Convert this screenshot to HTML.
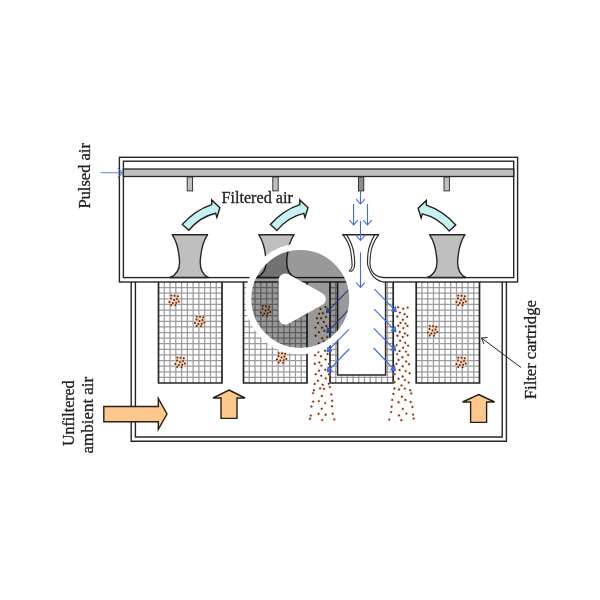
<!DOCTYPE html>
<html lang="en"><head><meta charset="utf-8"><title>Pulse-jet filter cartridge diagram</title>
<style>html,body{margin:0;padding:0;background:#fff}body{width:600px;height:600px;overflow:hidden;font-family:"Liberation Serif",serif}svg{display:block}text{font-family:"Liberation Serif",serif;fill:#1c1c1c;filter:grayscale(1)}</style></head><body>
<svg width="600" height="600" viewBox="0 0 600 600">
<defs>
<pattern id="g" width="5.77" height="5.77" patternUnits="userSpaceOnUse" x="158.5" y="282"><rect width="5.77" height="5.77" fill="#fff"/><path d="M0 0H5.77M0 0V5.77" stroke="#7d7d7d" stroke-width="1.7" fill="none"/></pattern>
<clipPath id="pc"><circle cx="300" cy="300" r="49"/></clipPath>
</defs>
<rect width="600" height="600" fill="#fff"/>
<g fill="none" stroke="#262626" stroke-width="1.4">
<path d="M131.2 282V441.2H506.4V282"/>
<path d="M135.4 282V437H502.2V282"/>
</g>
<rect x="158.5" y="282" width="63.5" height="101" fill="#fff"/>
<path d="M164.27 282V383M170.05 282V383M175.82 282V383M181.59 282V383M187.36 282V383M193.14 282V383M198.91 282V383M204.68 282V383M210.45 282V383M216.23 282V383M158.5 287.61H222M158.5 293.22H222M158.5 298.83H222M158.5 304.44H222M158.5 310.06H222M158.5 315.67H222M158.5 321.28H222M158.5 326.89H222M158.5 332.50H222M158.5 338.11H222M158.5 343.72H222M158.5 349.33H222M158.5 354.94H222M158.5 360.56H222M158.5 366.17H222M158.5 371.78H222M158.5 377.39H222" fill="none" stroke="#9c9ca0" stroke-width="1.25"/>
<path d="M158.5 282V383H222V282" fill="none" stroke="#262626" stroke-width="1.7"/>
<rect x="243.5" y="282" width="63.5" height="101" fill="#fff"/>
<path d="M249.27 282V383M255.05 282V383M260.82 282V383M266.59 282V383M272.36 282V383M278.14 282V383M283.91 282V383M289.68 282V383M295.45 282V383M301.23 282V383M243.5 287.61H307M243.5 293.22H307M243.5 298.83H307M243.5 304.44H307M243.5 310.06H307M243.5 315.67H307M243.5 321.28H307M243.5 326.89H307M243.5 332.50H307M243.5 338.11H307M243.5 343.72H307M243.5 349.33H307M243.5 354.94H307M243.5 360.56H307M243.5 366.17H307M243.5 371.78H307M243.5 377.39H307" fill="none" stroke="#9c9ca0" stroke-width="1.25"/>
<path d="M243.5 282V383H307V282" fill="none" stroke="#262626" stroke-width="1.7"/>
<rect x="330" y="282" width="63.19999999999999" height="101" fill="#fff"/>
<path d="M335.75 282V383M341.49 282V383M347.24 282V383M352.98 282V383M358.73 282V383M364.47 282V383M370.22 282V383M375.96 282V383M381.71 282V383M387.45 282V383M330 287.61H393.2M330 293.22H393.2M330 298.83H393.2M330 304.44H393.2M330 310.06H393.2M330 315.67H393.2M330 321.28H393.2M330 326.89H393.2M330 332.50H393.2M330 338.11H393.2M330 343.72H393.2M330 349.33H393.2M330 354.94H393.2M330 360.56H393.2M330 366.17H393.2M330 371.78H393.2M330 377.39H393.2" fill="none" stroke="#9c9ca0" stroke-width="1.25"/>
<rect x="337.6" y="281" width="48" height="94" fill="#fff"/>
<path d="M337.6 282V375H385.6V282" fill="none" stroke="#262626" stroke-width="1.5"/>
<path d="M330 282V383H393.2V282" fill="none" stroke="#262626" stroke-width="1.7"/>
<rect x="416.2" y="282" width="63.30000000000001" height="101" fill="#fff"/>
<path d="M421.95 282V383M427.71 282V383M433.46 282V383M439.22 282V383M444.97 282V383M450.73 282V383M456.48 282V383M462.24 282V383M467.99 282V383M473.75 282V383M416.2 287.61H479.5M416.2 293.22H479.5M416.2 298.83H479.5M416.2 304.44H479.5M416.2 310.06H479.5M416.2 315.67H479.5M416.2 321.28H479.5M416.2 326.89H479.5M416.2 332.50H479.5M416.2 338.11H479.5M416.2 343.72H479.5M416.2 349.33H479.5M416.2 354.94H479.5M416.2 360.56H479.5M416.2 366.17H479.5M416.2 371.78H479.5M416.2 377.39H479.5" fill="none" stroke="#9c9ca0" stroke-width="1.25"/>
<path d="M416.2 282V383H479.5V282" fill="none" stroke="#262626" stroke-width="1.7"/>
<rect x="119.4" y="157.3" width="398.2" height="124.7" fill="#fff" stroke="#262626" stroke-width="1.4"/>
<rect x="123.4" y="161.2" width="390.3" height="116.4" fill="#fff" stroke="#262626" stroke-width="1.4"/>
<rect x="123.4" y="169" width="390.3" height="7.5" fill="#bfbfbf" stroke="#262626" stroke-width="1.3"/>
<rect x="187.2" y="177" width="5.4" height="13.9" fill="#bfbfbf" stroke="#262626" stroke-width="0.9"/>
<rect x="272.8" y="177" width="5.4" height="13.9" fill="#bfbfbf" stroke="#262626" stroke-width="0.9"/>
<rect x="358.4" y="177" width="5.4" height="13.9" fill="#8c8c8c" stroke="#262626" stroke-width="0.9"/>
<rect x="444" y="177" width="5.4" height="13.9" fill="#bfbfbf" stroke="#262626" stroke-width="0.9"/>
<path d="M172.20000000000002 234.7H207.6C203.9 240 200.9 250 200.20000000000002 262C200.20000000000002 268 201.9 274.5 208.4 277.5H169.9C177.4 274.5 179.6 268 179.6 262C178.9 250 175.9 240 172.20000000000002 234.7Z" fill="#bfbfbf" stroke="#262626" stroke-width="1.4" stroke-linejoin="round"/>
<path d="M258.7 234.7H294.09999999999997C290.4 240 287.4 250 286.7 262C286.7 268 288.4 274.5 294.9 277.5H256.4C263.9 274.5 266.09999999999997 268 266.09999999999997 262C265.4 250 262.4 240 258.7 234.7Z" fill="#bfbfbf" stroke="#262626" stroke-width="1.4" stroke-linejoin="round"/>
<path d="M429.6 234.7H465.0C461.3 240 458.3 250 457.6 262C457.6 268 459.3 274.5 465.8 277.5H427.3C434.8 274.5 437.0 268 437.0 262C436.3 250 433.3 240 429.6 234.7Z" fill="#bfbfbf" stroke="#262626" stroke-width="1.4" stroke-linejoin="round"/>
<rect x="347.6" y="276" width="35.5" height="7.2" fill="#fff"/>
<path d="M342.8 234.6C347.5 240.5 350.3 247 351 253.3C351.6 258.5 352.4 263 352 266.3C351.7 268.5 350.6 270 349.2 271L351.6 271.3C353.3 270 354.2 268.3 354.5 266C354.9 262.5 354.6 258.5 353.9 253.3C353 247 350.5 241 346.6 234.6Z" fill="#fff" stroke="#262626" stroke-width="1.1" stroke-linejoin="round"/>
<path d="M378.6 234.6C374.3 240.5 371.4 247 370.7 253.3C370.1 258 369.8 261.5 370 264.3C370.4 269.5 372.5 273 375.8 275.3C378 276.8 380.5 277.5 384 277.6L383 282C379 281.5 373.5 278 371.2 273.5C369 269 367.8 267 367.6 264.3C367.4 261 367.5 258 368 253.3C368.7 247 371 241 374.8 234.6Z" fill="#fff" stroke="none"/>
<path d="M378.6 234.6C374.3 240.5 371.4 247 370.7 253.3C370.1 258 369.8 261.5 370 264.3C370.4 269.5 372.5 273 375.8 275.3C378 276.8 380.5 277.5 384 277.6M383.5 282C379 281.5 373.5 278 371.2 273.5C369 269 367.8 267 367.6 264.3C367.4 261 367.5 258 368 253.3C368.7 247 371 241 374.8 234.6" fill="none" stroke="#262626" stroke-width="1.1" stroke-linejoin="round"/>
<path d="M342.4 234.7H379" stroke="#262626" stroke-width="1.5"/>
<path transform="translate(182.3 224.4) scale(1 1)" d="M0 0C8 -9 18 -16 29.4 -19.8L29.4 -24.5L37.6 -16.7L34.6 -7L33.4 -11.1C24 -9 14 -3 6.6 5.9Z" fill="#c6f0f2" stroke="#1f1f1f" stroke-width="1.4" stroke-linejoin="miter"/>
<path transform="translate(270.4 224.5) scale(1 1)" d="M0 0C8 -9 18 -16 29.4 -19.8L29.4 -24.5L37.6 -16.7L34.6 -7L33.4 -11.1C24 -9 14 -3 6.6 5.9Z" fill="#c6f0f2" stroke="#1f1f1f" stroke-width="1.4" stroke-linejoin="miter"/>
<path transform="translate(455.75 225) scale(-1 1)" d="M0 0C8 -9 18 -16 29.4 -19.8L29.4 -24.5L37.6 -16.7L34.6 -7L33.4 -11.1C24 -9 14 -3 6.6 5.9Z" fill="#c6f0f2" stroke="#1f1f1f" stroke-width="1.4" stroke-linejoin="miter"/>
<path d="M100.5 172.8H122M117.8 167.8L122.3 172.8L117.8 177.6" fill="none" stroke="#4169d8" stroke-opacity="0.85" stroke-width="1.1"/>
<path d="M360.5 190.5L360.5 204.0M356.2 199.1L360.5 204.0L364.8 199.1" fill="none" stroke="#4169d8" stroke-width="1.1"/>
<path d="M353.6 204.0L353.6 225.0M349.3 220.1L353.6 225.0L357.9 220.1" fill="none" stroke="#4169d8" stroke-width="1.1"/>
<path d="M367.5 204.0L367.5 225.0M363.2 220.1L367.5 225.0L371.8 220.1" fill="none" stroke="#4169d8" stroke-width="1.1"/>
<path d="M360.5 221.0L360.5 240.5M356.2 235.6L360.5 240.5L364.8 235.6" fill="none" stroke="#4169d8" stroke-width="1.1"/>
<path d="M360.5 252.5L360.5 287.5M356.2 282.6L360.5 287.5L364.8 282.6" fill="none" stroke="#4169d8" stroke-width="1.1"/>
<path d="M374.5 289.2L396.3 311.7" fill="none" stroke="#4169d8" stroke-width="1.15"/><path d="M391.2 310.8L396.3 311.7L395.5 306.6Z" fill="#4169d8" fill-opacity="0.75" stroke="#4169d8" stroke-width="1"/>
<path d="M348.2 290.2L326.4 312.7" fill="none" stroke="#4169d8" stroke-width="1.15"/><path d="M327.2 307.6L326.4 312.7L331.5 311.8Z" fill="#4169d8" fill-opacity="0.75" stroke="#4169d8" stroke-width="1"/>
<path d="M374.2 309.2L396.0 331.7" fill="none" stroke="#4169d8" stroke-width="1.15"/><path d="M390.9 330.8L396.0 331.7L395.2 326.6Z" fill="#4169d8" fill-opacity="0.75" stroke="#4169d8" stroke-width="1"/>
<path d="M348.5 310.2L326.7 332.7" fill="none" stroke="#4169d8" stroke-width="1.15"/><path d="M327.5 327.6L326.7 332.7L331.8 331.8Z" fill="#4169d8" fill-opacity="0.75" stroke="#4169d8" stroke-width="1"/>
<path d="M373.9 328.3L395.7 350.8" fill="none" stroke="#4169d8" stroke-width="1.15"/><path d="M390.6 349.9L395.7 350.8L394.9 345.7Z" fill="#4169d8" fill-opacity="0.75" stroke="#4169d8" stroke-width="1"/>
<path d="M348.8 329.3L327.0 351.8" fill="none" stroke="#4169d8" stroke-width="1.15"/><path d="M327.8 346.7L327.0 351.8L332.1 350.9Z" fill="#4169d8" fill-opacity="0.75" stroke="#4169d8" stroke-width="1"/>
<path d="M373.6 348.0L395.4 370.8" fill="none" stroke="#4169d8" stroke-width="1.15"/><path d="M390.3 369.8L395.4 370.8L394.7 365.7Z" fill="#4169d8" fill-opacity="0.75" stroke="#4169d8" stroke-width="1"/>
<path d="M349.1 349.0L327.3 371.8" fill="none" stroke="#4169d8" stroke-width="1.15"/><path d="M328.0 366.7L327.3 371.8L332.4 370.8Z" fill="#4169d8" fill-opacity="0.75" stroke="#4169d8" stroke-width="1"/>
<circle cx="174" cy="300" r="6" fill="#fde3cf" opacity="0.45"/><circle cx="174.0" cy="300.0" r="1.7" fill="#f6b98c" opacity="0.5"/><circle cx="171.0" cy="298.5" r="1.7" fill="#f6b98c" opacity="0.5"/><circle cx="177.0" cy="299.0" r="1.7" fill="#f6b98c" opacity="0.5"/><circle cx="172.8" cy="303.0" r="1.7" fill="#f6b98c" opacity="0.5"/><circle cx="176.2" cy="302.8" r="1.7" fill="#f6b98c" opacity="0.5"/><circle cx="169.4" cy="302.0" r="1.7" fill="#f6b98c" opacity="0.5"/><circle cx="174.5" cy="295.8" r="1.7" fill="#f6b98c" opacity="0.5"/><circle cx="178.8" cy="301.5" r="1.7" fill="#f6b98c" opacity="0.5"/><circle cx="171.3" cy="295.6" r="1.7" fill="#f6b98c" opacity="0.5"/><circle cx="171.2" cy="305.0" r="1.7" fill="#f6b98c" opacity="0.5"/><circle cx="175.5" cy="305.2" r="1.7" fill="#f6b98c" opacity="0.5"/><circle cx="177.8" cy="296.2" r="1.7" fill="#f6b98c" opacity="0.5"/><circle cx="174.0" cy="300.0" r="0.95" fill="#5e2613"/><circle cx="171.0" cy="298.5" r="0.95" fill="#5e2613"/><circle cx="177.0" cy="299.0" r="0.95" fill="#5e2613"/><circle cx="172.8" cy="303.0" r="0.95" fill="#5e2613"/><circle cx="176.2" cy="302.8" r="0.95" fill="#5e2613"/><circle cx="169.4" cy="302.0" r="0.95" fill="#5e2613"/><circle cx="174.5" cy="295.8" r="0.95" fill="#5e2613"/><circle cx="178.8" cy="301.5" r="0.95" fill="#5e2613"/><circle cx="171.3" cy="295.6" r="0.95" fill="#5e2613"/><circle cx="171.2" cy="305.0" r="0.95" fill="#5e2613"/><circle cx="175.5" cy="305.2" r="0.95" fill="#5e2613"/><circle cx="177.8" cy="296.2" r="0.95" fill="#5e2613"/>
<circle cx="199.5" cy="321" r="6" fill="#fde3cf" opacity="0.45"/><circle cx="199.5" cy="321.0" r="1.7" fill="#f6b98c" opacity="0.5"/><circle cx="196.5" cy="319.5" r="1.7" fill="#f6b98c" opacity="0.5"/><circle cx="202.5" cy="320.0" r="1.7" fill="#f6b98c" opacity="0.5"/><circle cx="198.3" cy="324.0" r="1.7" fill="#f6b98c" opacity="0.5"/><circle cx="201.7" cy="323.8" r="1.7" fill="#f6b98c" opacity="0.5"/><circle cx="194.9" cy="323.0" r="1.7" fill="#f6b98c" opacity="0.5"/><circle cx="200.0" cy="316.8" r="1.7" fill="#f6b98c" opacity="0.5"/><circle cx="204.3" cy="322.5" r="1.7" fill="#f6b98c" opacity="0.5"/><circle cx="196.8" cy="316.6" r="1.7" fill="#f6b98c" opacity="0.5"/><circle cx="196.7" cy="326.0" r="1.7" fill="#f6b98c" opacity="0.5"/><circle cx="201.0" cy="326.2" r="1.7" fill="#f6b98c" opacity="0.5"/><circle cx="203.3" cy="317.2" r="1.7" fill="#f6b98c" opacity="0.5"/><circle cx="199.5" cy="321.0" r="0.95" fill="#5e2613"/><circle cx="196.5" cy="319.5" r="0.95" fill="#5e2613"/><circle cx="202.5" cy="320.0" r="0.95" fill="#5e2613"/><circle cx="198.3" cy="324.0" r="0.95" fill="#5e2613"/><circle cx="201.7" cy="323.8" r="0.95" fill="#5e2613"/><circle cx="194.9" cy="323.0" r="0.95" fill="#5e2613"/><circle cx="200.0" cy="316.8" r="0.95" fill="#5e2613"/><circle cx="204.3" cy="322.5" r="0.95" fill="#5e2613"/><circle cx="196.8" cy="316.6" r="0.95" fill="#5e2613"/><circle cx="196.7" cy="326.0" r="0.95" fill="#5e2613"/><circle cx="201.0" cy="326.2" r="0.95" fill="#5e2613"/><circle cx="203.3" cy="317.2" r="0.95" fill="#5e2613"/>
<circle cx="180" cy="362" r="6" fill="#fde3cf" opacity="0.45"/><circle cx="180.0" cy="362.0" r="1.7" fill="#f6b98c" opacity="0.5"/><circle cx="177.0" cy="360.5" r="1.7" fill="#f6b98c" opacity="0.5"/><circle cx="183.0" cy="361.0" r="1.7" fill="#f6b98c" opacity="0.5"/><circle cx="178.8" cy="365.0" r="1.7" fill="#f6b98c" opacity="0.5"/><circle cx="182.2" cy="364.8" r="1.7" fill="#f6b98c" opacity="0.5"/><circle cx="175.4" cy="364.0" r="1.7" fill="#f6b98c" opacity="0.5"/><circle cx="180.5" cy="357.8" r="1.7" fill="#f6b98c" opacity="0.5"/><circle cx="184.8" cy="363.5" r="1.7" fill="#f6b98c" opacity="0.5"/><circle cx="177.3" cy="357.6" r="1.7" fill="#f6b98c" opacity="0.5"/><circle cx="177.2" cy="367.0" r="1.7" fill="#f6b98c" opacity="0.5"/><circle cx="181.5" cy="367.2" r="1.7" fill="#f6b98c" opacity="0.5"/><circle cx="183.8" cy="358.2" r="1.7" fill="#f6b98c" opacity="0.5"/><circle cx="180.0" cy="362.0" r="0.95" fill="#5e2613"/><circle cx="177.0" cy="360.5" r="0.95" fill="#5e2613"/><circle cx="183.0" cy="361.0" r="0.95" fill="#5e2613"/><circle cx="178.8" cy="365.0" r="0.95" fill="#5e2613"/><circle cx="182.2" cy="364.8" r="0.95" fill="#5e2613"/><circle cx="175.4" cy="364.0" r="0.95" fill="#5e2613"/><circle cx="180.5" cy="357.8" r="0.95" fill="#5e2613"/><circle cx="184.8" cy="363.5" r="0.95" fill="#5e2613"/><circle cx="177.3" cy="357.6" r="0.95" fill="#5e2613"/><circle cx="177.2" cy="367.0" r="0.95" fill="#5e2613"/><circle cx="181.5" cy="367.2" r="0.95" fill="#5e2613"/><circle cx="183.8" cy="358.2" r="0.95" fill="#5e2613"/>
<circle cx="265.5" cy="310.5" r="6" fill="#fde3cf" opacity="0.45"/><circle cx="265.5" cy="310.5" r="1.7" fill="#f6b98c" opacity="0.5"/><circle cx="262.5" cy="309.0" r="1.7" fill="#f6b98c" opacity="0.5"/><circle cx="268.5" cy="309.5" r="1.7" fill="#f6b98c" opacity="0.5"/><circle cx="264.3" cy="313.5" r="1.7" fill="#f6b98c" opacity="0.5"/><circle cx="267.7" cy="313.3" r="1.7" fill="#f6b98c" opacity="0.5"/><circle cx="260.9" cy="312.5" r="1.7" fill="#f6b98c" opacity="0.5"/><circle cx="266.0" cy="306.3" r="1.7" fill="#f6b98c" opacity="0.5"/><circle cx="270.3" cy="312.0" r="1.7" fill="#f6b98c" opacity="0.5"/><circle cx="262.8" cy="306.1" r="1.7" fill="#f6b98c" opacity="0.5"/><circle cx="262.7" cy="315.5" r="1.7" fill="#f6b98c" opacity="0.5"/><circle cx="267.0" cy="315.7" r="1.7" fill="#f6b98c" opacity="0.5"/><circle cx="269.3" cy="306.7" r="1.7" fill="#f6b98c" opacity="0.5"/><circle cx="265.5" cy="310.5" r="0.95" fill="#5e2613"/><circle cx="262.5" cy="309.0" r="0.95" fill="#5e2613"/><circle cx="268.5" cy="309.5" r="0.95" fill="#5e2613"/><circle cx="264.3" cy="313.5" r="0.95" fill="#5e2613"/><circle cx="267.7" cy="313.3" r="0.95" fill="#5e2613"/><circle cx="260.9" cy="312.5" r="0.95" fill="#5e2613"/><circle cx="266.0" cy="306.3" r="0.95" fill="#5e2613"/><circle cx="270.3" cy="312.0" r="0.95" fill="#5e2613"/><circle cx="262.8" cy="306.1" r="0.95" fill="#5e2613"/><circle cx="262.7" cy="315.5" r="0.95" fill="#5e2613"/><circle cx="267.0" cy="315.7" r="0.95" fill="#5e2613"/><circle cx="269.3" cy="306.7" r="0.95" fill="#5e2613"/>
<circle cx="281.5" cy="357.5" r="6" fill="#fde3cf" opacity="0.45"/><circle cx="281.5" cy="357.5" r="1.7" fill="#f6b98c" opacity="0.5"/><circle cx="278.5" cy="356.0" r="1.7" fill="#f6b98c" opacity="0.5"/><circle cx="284.5" cy="356.5" r="1.7" fill="#f6b98c" opacity="0.5"/><circle cx="280.3" cy="360.5" r="1.7" fill="#f6b98c" opacity="0.5"/><circle cx="283.7" cy="360.3" r="1.7" fill="#f6b98c" opacity="0.5"/><circle cx="276.9" cy="359.5" r="1.7" fill="#f6b98c" opacity="0.5"/><circle cx="282.0" cy="353.3" r="1.7" fill="#f6b98c" opacity="0.5"/><circle cx="286.3" cy="359.0" r="1.7" fill="#f6b98c" opacity="0.5"/><circle cx="278.8" cy="353.1" r="1.7" fill="#f6b98c" opacity="0.5"/><circle cx="278.7" cy="362.5" r="1.7" fill="#f6b98c" opacity="0.5"/><circle cx="283.0" cy="362.7" r="1.7" fill="#f6b98c" opacity="0.5"/><circle cx="285.3" cy="353.7" r="1.7" fill="#f6b98c" opacity="0.5"/><circle cx="281.5" cy="357.5" r="0.95" fill="#5e2613"/><circle cx="278.5" cy="356.0" r="0.95" fill="#5e2613"/><circle cx="284.5" cy="356.5" r="0.95" fill="#5e2613"/><circle cx="280.3" cy="360.5" r="0.95" fill="#5e2613"/><circle cx="283.7" cy="360.3" r="0.95" fill="#5e2613"/><circle cx="276.9" cy="359.5" r="0.95" fill="#5e2613"/><circle cx="282.0" cy="353.3" r="0.95" fill="#5e2613"/><circle cx="286.3" cy="359.0" r="0.95" fill="#5e2613"/><circle cx="278.8" cy="353.1" r="0.95" fill="#5e2613"/><circle cx="278.7" cy="362.5" r="0.95" fill="#5e2613"/><circle cx="283.0" cy="362.7" r="0.95" fill="#5e2613"/><circle cx="285.3" cy="353.7" r="0.95" fill="#5e2613"/>
<circle cx="461" cy="300" r="6" fill="#fde3cf" opacity="0.45"/><circle cx="461.0" cy="300.0" r="1.7" fill="#f6b98c" opacity="0.5"/><circle cx="458.0" cy="298.5" r="1.7" fill="#f6b98c" opacity="0.5"/><circle cx="464.0" cy="299.0" r="1.7" fill="#f6b98c" opacity="0.5"/><circle cx="459.8" cy="303.0" r="1.7" fill="#f6b98c" opacity="0.5"/><circle cx="463.2" cy="302.8" r="1.7" fill="#f6b98c" opacity="0.5"/><circle cx="456.4" cy="302.0" r="1.7" fill="#f6b98c" opacity="0.5"/><circle cx="461.5" cy="295.8" r="1.7" fill="#f6b98c" opacity="0.5"/><circle cx="465.8" cy="301.5" r="1.7" fill="#f6b98c" opacity="0.5"/><circle cx="458.3" cy="295.6" r="1.7" fill="#f6b98c" opacity="0.5"/><circle cx="458.2" cy="305.0" r="1.7" fill="#f6b98c" opacity="0.5"/><circle cx="462.5" cy="305.2" r="1.7" fill="#f6b98c" opacity="0.5"/><circle cx="464.8" cy="296.2" r="1.7" fill="#f6b98c" opacity="0.5"/><circle cx="461.0" cy="300.0" r="0.95" fill="#5e2613"/><circle cx="458.0" cy="298.5" r="0.95" fill="#5e2613"/><circle cx="464.0" cy="299.0" r="0.95" fill="#5e2613"/><circle cx="459.8" cy="303.0" r="0.95" fill="#5e2613"/><circle cx="463.2" cy="302.8" r="0.95" fill="#5e2613"/><circle cx="456.4" cy="302.0" r="0.95" fill="#5e2613"/><circle cx="461.5" cy="295.8" r="0.95" fill="#5e2613"/><circle cx="465.8" cy="301.5" r="0.95" fill="#5e2613"/><circle cx="458.3" cy="295.6" r="0.95" fill="#5e2613"/><circle cx="458.2" cy="305.0" r="0.95" fill="#5e2613"/><circle cx="462.5" cy="305.2" r="0.95" fill="#5e2613"/><circle cx="464.8" cy="296.2" r="0.95" fill="#5e2613"/>
<circle cx="432.5" cy="330.5" r="6" fill="#fde3cf" opacity="0.45"/><circle cx="432.5" cy="330.5" r="1.7" fill="#f6b98c" opacity="0.5"/><circle cx="429.5" cy="329.0" r="1.7" fill="#f6b98c" opacity="0.5"/><circle cx="435.5" cy="329.5" r="1.7" fill="#f6b98c" opacity="0.5"/><circle cx="431.3" cy="333.5" r="1.7" fill="#f6b98c" opacity="0.5"/><circle cx="434.7" cy="333.3" r="1.7" fill="#f6b98c" opacity="0.5"/><circle cx="427.9" cy="332.5" r="1.7" fill="#f6b98c" opacity="0.5"/><circle cx="433.0" cy="326.3" r="1.7" fill="#f6b98c" opacity="0.5"/><circle cx="437.3" cy="332.0" r="1.7" fill="#f6b98c" opacity="0.5"/><circle cx="429.8" cy="326.1" r="1.7" fill="#f6b98c" opacity="0.5"/><circle cx="429.7" cy="335.5" r="1.7" fill="#f6b98c" opacity="0.5"/><circle cx="434.0" cy="335.7" r="1.7" fill="#f6b98c" opacity="0.5"/><circle cx="436.3" cy="326.7" r="1.7" fill="#f6b98c" opacity="0.5"/><circle cx="432.5" cy="330.5" r="0.95" fill="#5e2613"/><circle cx="429.5" cy="329.0" r="0.95" fill="#5e2613"/><circle cx="435.5" cy="329.5" r="0.95" fill="#5e2613"/><circle cx="431.3" cy="333.5" r="0.95" fill="#5e2613"/><circle cx="434.7" cy="333.3" r="0.95" fill="#5e2613"/><circle cx="427.9" cy="332.5" r="0.95" fill="#5e2613"/><circle cx="433.0" cy="326.3" r="0.95" fill="#5e2613"/><circle cx="437.3" cy="332.0" r="0.95" fill="#5e2613"/><circle cx="429.8" cy="326.1" r="0.95" fill="#5e2613"/><circle cx="429.7" cy="335.5" r="0.95" fill="#5e2613"/><circle cx="434.0" cy="335.7" r="0.95" fill="#5e2613"/><circle cx="436.3" cy="326.7" r="0.95" fill="#5e2613"/>
<circle cx="461" cy="362" r="6" fill="#fde3cf" opacity="0.45"/><circle cx="461.0" cy="362.0" r="1.7" fill="#f6b98c" opacity="0.5"/><circle cx="458.0" cy="360.5" r="1.7" fill="#f6b98c" opacity="0.5"/><circle cx="464.0" cy="361.0" r="1.7" fill="#f6b98c" opacity="0.5"/><circle cx="459.8" cy="365.0" r="1.7" fill="#f6b98c" opacity="0.5"/><circle cx="463.2" cy="364.8" r="1.7" fill="#f6b98c" opacity="0.5"/><circle cx="456.4" cy="364.0" r="1.7" fill="#f6b98c" opacity="0.5"/><circle cx="461.5" cy="357.8" r="1.7" fill="#f6b98c" opacity="0.5"/><circle cx="465.8" cy="363.5" r="1.7" fill="#f6b98c" opacity="0.5"/><circle cx="458.3" cy="357.6" r="1.7" fill="#f6b98c" opacity="0.5"/><circle cx="458.2" cy="367.0" r="1.7" fill="#f6b98c" opacity="0.5"/><circle cx="462.5" cy="367.2" r="1.7" fill="#f6b98c" opacity="0.5"/><circle cx="464.8" cy="358.2" r="1.7" fill="#f6b98c" opacity="0.5"/><circle cx="461.0" cy="362.0" r="0.95" fill="#5e2613"/><circle cx="458.0" cy="360.5" r="0.95" fill="#5e2613"/><circle cx="464.0" cy="361.0" r="0.95" fill="#5e2613"/><circle cx="459.8" cy="365.0" r="0.95" fill="#5e2613"/><circle cx="463.2" cy="364.8" r="0.95" fill="#5e2613"/><circle cx="456.4" cy="364.0" r="0.95" fill="#5e2613"/><circle cx="461.5" cy="357.8" r="0.95" fill="#5e2613"/><circle cx="465.8" cy="363.5" r="0.95" fill="#5e2613"/><circle cx="458.3" cy="357.6" r="0.95" fill="#5e2613"/><circle cx="458.2" cy="367.0" r="0.95" fill="#5e2613"/><circle cx="462.5" cy="367.2" r="0.95" fill="#5e2613"/><circle cx="464.8" cy="358.2" r="0.95" fill="#5e2613"/>
<circle cx="398.1" cy="307.2" r="1.8" fill="#f6b98c" opacity="0.45"/><circle cx="398.1" cy="307.2" r="0.95" fill="#5e2613"/><circle cx="403.2" cy="308.8" r="1.8" fill="#f6b98c" opacity="0.45"/><circle cx="403.2" cy="308.8" r="0.95" fill="#5e2613"/><circle cx="407.7" cy="307.6" r="1.8" fill="#f6b98c" opacity="0.45"/><circle cx="407.7" cy="307.6" r="0.95" fill="#5e2613"/><circle cx="399.9" cy="312.6" r="1.8" fill="#f6b98c" opacity="0.45"/><circle cx="399.9" cy="312.6" r="0.95" fill="#5e2613"/><circle cx="404.6" cy="314.3" r="1.8" fill="#f6b98c" opacity="0.45"/><circle cx="404.6" cy="314.3" r="0.95" fill="#5e2613"/><circle cx="397.3" cy="316.5" r="1.8" fill="#f6b98c" opacity="0.45"/><circle cx="397.3" cy="316.5" r="0.95" fill="#5e2613"/><circle cx="402.8" cy="319.8" r="1.8" fill="#f6b98c" opacity="0.45"/><circle cx="402.8" cy="319.8" r="0.95" fill="#5e2613"/><circle cx="407.2" cy="316.7" r="1.8" fill="#f6b98c" opacity="0.45"/><circle cx="407.2" cy="316.7" r="0.95" fill="#5e2613"/><circle cx="400.5" cy="322.9" r="1.8" fill="#f6b98c" opacity="0.45"/><circle cx="400.5" cy="322.9" r="0.95" fill="#5e2613"/><circle cx="405.5" cy="323.6" r="1.8" fill="#f6b98c" opacity="0.45"/><circle cx="405.5" cy="323.6" r="0.95" fill="#5e2613"/><circle cx="398.3" cy="325.8" r="1.8" fill="#f6b98c" opacity="0.45"/><circle cx="398.3" cy="325.8" r="0.95" fill="#5e2613"/><circle cx="403.4" cy="328.1" r="1.8" fill="#f6b98c" opacity="0.45"/><circle cx="403.4" cy="328.1" r="0.95" fill="#5e2613"/><circle cx="407.5" cy="325.9" r="1.8" fill="#f6b98c" opacity="0.45"/><circle cx="407.5" cy="325.9" r="0.95" fill="#5e2613"/><circle cx="399.8" cy="332.0" r="1.8" fill="#f6b98c" opacity="0.45"/><circle cx="399.8" cy="332.0" r="0.95" fill="#5e2613"/><circle cx="404.9" cy="333.4" r="1.8" fill="#f6b98c" opacity="0.45"/><circle cx="404.9" cy="333.4" r="0.95" fill="#5e2613"/><circle cx="397.4" cy="335.8" r="1.8" fill="#f6b98c" opacity="0.45"/><circle cx="397.4" cy="335.8" r="0.95" fill="#5e2613"/><circle cx="402.8" cy="337.0" r="1.8" fill="#f6b98c" opacity="0.45"/><circle cx="402.8" cy="337.0" r="0.95" fill="#5e2613"/><circle cx="407.5" cy="335.5" r="1.8" fill="#f6b98c" opacity="0.45"/><circle cx="407.5" cy="335.5" r="0.95" fill="#5e2613"/><circle cx="400.1" cy="340.7" r="1.8" fill="#f6b98c" opacity="0.45"/><circle cx="400.1" cy="340.7" r="0.95" fill="#5e2613"/><circle cx="405.2" cy="342.8" r="1.8" fill="#f6b98c" opacity="0.45"/><circle cx="405.2" cy="342.8" r="0.95" fill="#5e2613"/><circle cx="396.7" cy="345.1" r="1.8" fill="#f6b98c" opacity="0.45"/><circle cx="396.7" cy="345.1" r="0.95" fill="#5e2613"/><circle cx="403.1" cy="347.7" r="1.8" fill="#f6b98c" opacity="0.45"/><circle cx="403.1" cy="347.7" r="0.95" fill="#5e2613"/><circle cx="408.1" cy="345.6" r="1.8" fill="#f6b98c" opacity="0.45"/><circle cx="408.1" cy="345.6" r="0.95" fill="#5e2613"/><circle cx="399.6" cy="351.0" r="1.8" fill="#f6b98c" opacity="0.45"/><circle cx="399.6" cy="351.0" r="0.95" fill="#5e2613"/><circle cx="405.9" cy="351.6" r="1.8" fill="#f6b98c" opacity="0.45"/><circle cx="405.9" cy="351.6" r="0.95" fill="#5e2613"/><circle cx="397.1" cy="354.1" r="1.8" fill="#f6b98c" opacity="0.45"/><circle cx="397.1" cy="354.1" r="0.95" fill="#5e2613"/><circle cx="402.4" cy="357.2" r="1.8" fill="#f6b98c" opacity="0.45"/><circle cx="402.4" cy="357.2" r="0.95" fill="#5e2613"/><circle cx="408.1" cy="354.9" r="1.8" fill="#f6b98c" opacity="0.45"/><circle cx="408.1" cy="354.9" r="0.95" fill="#5e2613"/><circle cx="398.6" cy="359.9" r="1.8" fill="#f6b98c" opacity="0.45"/><circle cx="398.6" cy="359.9" r="0.95" fill="#5e2613"/><circle cx="406.1" cy="361.5" r="1.8" fill="#f6b98c" opacity="0.45"/><circle cx="406.1" cy="361.5" r="0.95" fill="#5e2613"/><circle cx="396.5" cy="363.9" r="1.8" fill="#f6b98c" opacity="0.45"/><circle cx="396.5" cy="363.9" r="0.95" fill="#5e2613"/><circle cx="402.7" cy="366.3" r="1.8" fill="#f6b98c" opacity="0.45"/><circle cx="402.7" cy="366.3" r="0.95" fill="#5e2613"/><circle cx="409.0" cy="364.2" r="1.8" fill="#f6b98c" opacity="0.45"/><circle cx="409.0" cy="364.2" r="0.95" fill="#5e2613"/><circle cx="399.6" cy="369.9" r="1.8" fill="#f6b98c" opacity="0.45"/><circle cx="399.6" cy="369.9" r="0.95" fill="#5e2613"/><circle cx="405.7" cy="371.1" r="1.8" fill="#f6b98c" opacity="0.45"/><circle cx="405.7" cy="371.1" r="0.95" fill="#5e2613"/><circle cx="394.8" cy="374.1" r="1.8" fill="#f6b98c" opacity="0.45"/><circle cx="394.8" cy="374.1" r="0.95" fill="#5e2613"/><circle cx="402.6" cy="376.5" r="1.8" fill="#f6b98c" opacity="0.45"/><circle cx="402.6" cy="376.5" r="0.95" fill="#5e2613"/><circle cx="409.6" cy="373.3" r="1.8" fill="#f6b98c" opacity="0.45"/><circle cx="409.6" cy="373.3" r="0.95" fill="#5e2613"/><circle cx="398.6" cy="378.7" r="1.8" fill="#f6b98c" opacity="0.45"/><circle cx="398.6" cy="378.7" r="0.95" fill="#5e2613"/><circle cx="405.0" cy="380.1" r="1.8" fill="#f6b98c" opacity="0.45"/><circle cx="405.0" cy="380.1" r="0.95" fill="#5e2613"/><circle cx="394.6" cy="382.3" r="1.8" fill="#f6b98c" opacity="0.45"/><circle cx="394.6" cy="382.3" r="0.95" fill="#5e2613"/><circle cx="401.5" cy="385.4" r="1.8" fill="#f6b98c" opacity="0.45"/><circle cx="401.5" cy="385.4" r="0.95" fill="#5e2613"/><circle cx="408.7" cy="382.6" r="1.8" fill="#f6b98c" opacity="0.45"/><circle cx="408.7" cy="382.6" r="0.95" fill="#5e2613"/><circle cx="394.5" cy="388.5" r="1.8" fill="#f6b98c" opacity="0.45"/><circle cx="394.5" cy="388.5" r="0.95" fill="#5e2613"/><circle cx="399.0" cy="389.5" r="1.8" fill="#f6b98c" opacity="0.45"/><circle cx="399.0" cy="389.5" r="0.95" fill="#5e2613"/><circle cx="404.8" cy="388.6" r="1.8" fill="#f6b98c" opacity="0.45"/><circle cx="404.8" cy="388.6" r="0.95" fill="#5e2613"/><circle cx="410.2" cy="390.3" r="1.8" fill="#f6b98c" opacity="0.45"/><circle cx="410.2" cy="390.3" r="0.95" fill="#5e2613"/><circle cx="393.3" cy="393.9" r="1.8" fill="#f6b98c" opacity="0.45"/><circle cx="393.3" cy="393.9" r="0.95" fill="#5e2613"/><circle cx="401.9" cy="396.7" r="1.8" fill="#f6b98c" opacity="0.45"/><circle cx="401.9" cy="396.7" r="0.95" fill="#5e2613"/><circle cx="411.3" cy="393.4" r="1.8" fill="#f6b98c" opacity="0.45"/><circle cx="411.3" cy="393.4" r="0.95" fill="#5e2613"/><circle cx="392.2" cy="399.9" r="1.8" fill="#f6b98c" opacity="0.45"/><circle cx="392.2" cy="399.9" r="0.95" fill="#5e2613"/><circle cx="398.6" cy="402.2" r="1.8" fill="#f6b98c" opacity="0.45"/><circle cx="398.6" cy="402.2" r="0.95" fill="#5e2613"/><circle cx="405.4" cy="399.9" r="1.8" fill="#f6b98c" opacity="0.45"/><circle cx="405.4" cy="399.9" r="0.95" fill="#5e2613"/><circle cx="410.7" cy="402.0" r="1.8" fill="#f6b98c" opacity="0.45"/><circle cx="410.7" cy="402.0" r="0.95" fill="#5e2613"/><circle cx="391.6" cy="406.8" r="1.8" fill="#f6b98c" opacity="0.45"/><circle cx="391.6" cy="406.8" r="0.95" fill="#5e2613"/><circle cx="402.8" cy="408.9" r="1.8" fill="#f6b98c" opacity="0.45"/><circle cx="402.8" cy="408.9" r="0.95" fill="#5e2613"/><circle cx="412.4" cy="406.9" r="1.8" fill="#f6b98c" opacity="0.45"/><circle cx="412.4" cy="406.9" r="0.95" fill="#5e2613"/><circle cx="391.1" cy="412.1" r="1.8" fill="#f6b98c" opacity="0.45"/><circle cx="391.1" cy="412.1" r="0.95" fill="#5e2613"/><circle cx="399.0" cy="415.4" r="1.8" fill="#f6b98c" opacity="0.45"/><circle cx="399.0" cy="415.4" r="0.95" fill="#5e2613"/><circle cx="406.4" cy="413.6" r="1.8" fill="#f6b98c" opacity="0.45"/><circle cx="406.4" cy="413.6" r="0.95" fill="#5e2613"/><circle cx="413.1" cy="414.6" r="1.8" fill="#f6b98c" opacity="0.45"/><circle cx="413.1" cy="414.6" r="0.95" fill="#5e2613"/><circle cx="389.3" cy="419.6" r="1.8" fill="#f6b98c" opacity="0.45"/><circle cx="389.3" cy="419.6" r="0.95" fill="#5e2613"/><circle cx="401.3" cy="420.2" r="1.8" fill="#f6b98c" opacity="0.45"/><circle cx="401.3" cy="420.2" r="0.95" fill="#5e2613"/><circle cx="413.6" cy="418.6" r="1.8" fill="#f6b98c" opacity="0.45"/><circle cx="413.6" cy="418.6" r="0.95" fill="#5e2613"/>
<circle cx="325.5" cy="307.0" r="1.8" fill="#f6b98c" opacity="0.45"/><circle cx="325.5" cy="307.0" r="0.95" fill="#5e2613"/><circle cx="320.4" cy="309.0" r="1.8" fill="#f6b98c" opacity="0.45"/><circle cx="320.4" cy="309.0" r="0.95" fill="#5e2613"/><circle cx="316.0" cy="307.6" r="1.8" fill="#f6b98c" opacity="0.45"/><circle cx="316.0" cy="307.6" r="0.95" fill="#5e2613"/><circle cx="322.9" cy="313.3" r="1.8" fill="#f6b98c" opacity="0.45"/><circle cx="322.9" cy="313.3" r="0.95" fill="#5e2613"/><circle cx="319.1" cy="313.7" r="1.8" fill="#f6b98c" opacity="0.45"/><circle cx="319.1" cy="313.7" r="0.95" fill="#5e2613"/><circle cx="325.8" cy="317.0" r="1.8" fill="#f6b98c" opacity="0.45"/><circle cx="325.8" cy="317.0" r="0.95" fill="#5e2613"/><circle cx="321.1" cy="318.3" r="1.8" fill="#f6b98c" opacity="0.45"/><circle cx="321.1" cy="318.3" r="0.95" fill="#5e2613"/><circle cx="316.9" cy="318.3" r="1.8" fill="#f6b98c" opacity="0.45"/><circle cx="316.9" cy="318.3" r="0.95" fill="#5e2613"/><circle cx="323.8" cy="322.0" r="1.8" fill="#f6b98c" opacity="0.45"/><circle cx="323.8" cy="322.0" r="0.95" fill="#5e2613"/><circle cx="318.1" cy="323.0" r="1.8" fill="#f6b98c" opacity="0.45"/><circle cx="318.1" cy="323.0" r="0.95" fill="#5e2613"/><circle cx="326.4" cy="326.2" r="1.8" fill="#f6b98c" opacity="0.45"/><circle cx="326.4" cy="326.2" r="0.95" fill="#5e2613"/><circle cx="321.9" cy="327.8" r="1.8" fill="#f6b98c" opacity="0.45"/><circle cx="321.9" cy="327.8" r="0.95" fill="#5e2613"/><circle cx="315.4" cy="327.6" r="1.8" fill="#f6b98c" opacity="0.45"/><circle cx="315.4" cy="327.6" r="0.95" fill="#5e2613"/><circle cx="324.2" cy="330.7" r="1.8" fill="#f6b98c" opacity="0.45"/><circle cx="324.2" cy="330.7" r="0.95" fill="#5e2613"/><circle cx="318.8" cy="332.3" r="1.8" fill="#f6b98c" opacity="0.45"/><circle cx="318.8" cy="332.3" r="0.95" fill="#5e2613"/><circle cx="327.1" cy="337.1" r="1.8" fill="#f6b98c" opacity="0.45"/><circle cx="327.1" cy="337.1" r="0.95" fill="#5e2613"/><circle cx="322.1" cy="338.3" r="1.8" fill="#f6b98c" opacity="0.45"/><circle cx="322.1" cy="338.3" r="0.95" fill="#5e2613"/><circle cx="315.6" cy="335.8" r="1.8" fill="#f6b98c" opacity="0.45"/><circle cx="315.6" cy="335.8" r="0.95" fill="#5e2613"/><circle cx="323.9" cy="341.3" r="1.8" fill="#f6b98c" opacity="0.45"/><circle cx="323.9" cy="341.3" r="0.95" fill="#5e2613"/><circle cx="318.7" cy="343.2" r="1.8" fill="#f6b98c" opacity="0.45"/><circle cx="318.7" cy="343.2" r="0.95" fill="#5e2613"/><circle cx="327.2" cy="344.9" r="1.8" fill="#f6b98c" opacity="0.45"/><circle cx="327.2" cy="344.9" r="0.95" fill="#5e2613"/><circle cx="322.1" cy="348.3" r="1.8" fill="#f6b98c" opacity="0.45"/><circle cx="322.1" cy="348.3" r="0.95" fill="#5e2613"/><circle cx="316.3" cy="346.1" r="1.8" fill="#f6b98c" opacity="0.45"/><circle cx="316.3" cy="346.1" r="0.95" fill="#5e2613"/><circle cx="325.1" cy="350.7" r="1.8" fill="#f6b98c" opacity="0.45"/><circle cx="325.1" cy="350.7" r="0.95" fill="#5e2613"/><circle cx="318.2" cy="352.0" r="1.8" fill="#f6b98c" opacity="0.45"/><circle cx="318.2" cy="352.0" r="0.95" fill="#5e2613"/><circle cx="327.6" cy="354.0" r="1.8" fill="#f6b98c" opacity="0.45"/><circle cx="327.6" cy="354.0" r="0.95" fill="#5e2613"/><circle cx="320.9" cy="356.3" r="1.8" fill="#f6b98c" opacity="0.45"/><circle cx="320.9" cy="356.3" r="0.95" fill="#5e2613"/><circle cx="315.1" cy="355.3" r="1.8" fill="#f6b98c" opacity="0.45"/><circle cx="315.1" cy="355.3" r="0.95" fill="#5e2613"/><circle cx="325.6" cy="359.5" r="1.8" fill="#f6b98c" opacity="0.45"/><circle cx="325.6" cy="359.5" r="0.95" fill="#5e2613"/><circle cx="319.3" cy="362.4" r="1.8" fill="#f6b98c" opacity="0.45"/><circle cx="319.3" cy="362.4" r="0.95" fill="#5e2613"/><circle cx="329.0" cy="364.0" r="1.8" fill="#f6b98c" opacity="0.45"/><circle cx="329.0" cy="364.0" r="0.95" fill="#5e2613"/><circle cx="321.3" cy="365.6" r="1.8" fill="#f6b98c" opacity="0.45"/><circle cx="321.3" cy="365.6" r="0.95" fill="#5e2613"/><circle cx="314.8" cy="363.7" r="1.8" fill="#f6b98c" opacity="0.45"/><circle cx="314.8" cy="363.7" r="0.95" fill="#5e2613"/><circle cx="325.3" cy="369.8" r="1.8" fill="#f6b98c" opacity="0.45"/><circle cx="325.3" cy="369.8" r="0.95" fill="#5e2613"/><circle cx="319.1" cy="370.8" r="1.8" fill="#f6b98c" opacity="0.45"/><circle cx="319.1" cy="370.8" r="0.95" fill="#5e2613"/><circle cx="328.9" cy="374.3" r="1.8" fill="#f6b98c" opacity="0.45"/><circle cx="328.9" cy="374.3" r="0.95" fill="#5e2613"/><circle cx="321.2" cy="375.8" r="1.8" fill="#f6b98c" opacity="0.45"/><circle cx="321.2" cy="375.8" r="0.95" fill="#5e2613"/><circle cx="315.7" cy="374.3" r="1.8" fill="#f6b98c" opacity="0.45"/><circle cx="315.7" cy="374.3" r="0.95" fill="#5e2613"/><circle cx="325.8" cy="378.4" r="1.8" fill="#f6b98c" opacity="0.45"/><circle cx="325.8" cy="378.4" r="0.95" fill="#5e2613"/><circle cx="317.9" cy="380.8" r="1.8" fill="#f6b98c" opacity="0.45"/><circle cx="317.9" cy="380.8" r="0.95" fill="#5e2613"/><circle cx="328.8" cy="383.7" r="1.8" fill="#f6b98c" opacity="0.45"/><circle cx="328.8" cy="383.7" r="0.95" fill="#5e2613"/><circle cx="322.7" cy="384.7" r="1.8" fill="#f6b98c" opacity="0.45"/><circle cx="322.7" cy="384.7" r="0.95" fill="#5e2613"/><circle cx="314.7" cy="384.0" r="1.8" fill="#f6b98c" opacity="0.45"/><circle cx="314.7" cy="384.0" r="0.95" fill="#5e2613"/><circle cx="329.9" cy="387.1" r="1.8" fill="#f6b98c" opacity="0.45"/><circle cx="329.9" cy="387.1" r="0.95" fill="#5e2613"/><circle cx="323.9" cy="388.9" r="1.8" fill="#f6b98c" opacity="0.45"/><circle cx="323.9" cy="388.9" r="0.95" fill="#5e2613"/><circle cx="320.1" cy="388.4" r="1.8" fill="#f6b98c" opacity="0.45"/><circle cx="320.1" cy="388.4" r="0.95" fill="#5e2613"/><circle cx="313.9" cy="390.3" r="1.8" fill="#f6b98c" opacity="0.45"/><circle cx="313.9" cy="390.3" r="0.95" fill="#5e2613"/><circle cx="331.3" cy="394.4" r="1.8" fill="#f6b98c" opacity="0.45"/><circle cx="331.3" cy="394.4" r="0.95" fill="#5e2613"/><circle cx="321.8" cy="396.0" r="1.8" fill="#f6b98c" opacity="0.45"/><circle cx="321.8" cy="396.0" r="0.95" fill="#5e2613"/><circle cx="313.0" cy="393.1" r="1.8" fill="#f6b98c" opacity="0.45"/><circle cx="313.0" cy="393.1" r="0.95" fill="#5e2613"/><circle cx="332.2" cy="400.7" r="1.8" fill="#f6b98c" opacity="0.45"/><circle cx="332.2" cy="400.7" r="0.95" fill="#5e2613"/><circle cx="325.2" cy="403.1" r="1.8" fill="#f6b98c" opacity="0.45"/><circle cx="325.2" cy="403.1" r="0.95" fill="#5e2613"/><circle cx="318.9" cy="401.1" r="1.8" fill="#f6b98c" opacity="0.45"/><circle cx="318.9" cy="401.1" r="0.95" fill="#5e2613"/><circle cx="313.2" cy="401.6" r="1.8" fill="#f6b98c" opacity="0.45"/><circle cx="313.2" cy="401.6" r="0.95" fill="#5e2613"/><circle cx="332.0" cy="406.3" r="1.8" fill="#f6b98c" opacity="0.45"/><circle cx="332.0" cy="406.3" r="0.95" fill="#5e2613"/><circle cx="321.7" cy="408.7" r="1.8" fill="#f6b98c" opacity="0.45"/><circle cx="321.7" cy="408.7" r="0.95" fill="#5e2613"/><circle cx="311.5" cy="406.5" r="1.8" fill="#f6b98c" opacity="0.45"/><circle cx="311.5" cy="406.5" r="0.95" fill="#5e2613"/><circle cx="332.7" cy="413.8" r="1.8" fill="#f6b98c" opacity="0.45"/><circle cx="332.7" cy="413.8" r="0.95" fill="#5e2613"/><circle cx="325.6" cy="414.7" r="1.8" fill="#f6b98c" opacity="0.45"/><circle cx="325.6" cy="414.7" r="0.95" fill="#5e2613"/><circle cx="318.6" cy="413.8" r="1.8" fill="#f6b98c" opacity="0.45"/><circle cx="318.6" cy="413.8" r="0.95" fill="#5e2613"/><circle cx="310.8" cy="415.6" r="1.8" fill="#f6b98c" opacity="0.45"/><circle cx="310.8" cy="415.6" r="0.95" fill="#5e2613"/><circle cx="334.3" cy="419.4" r="1.8" fill="#f6b98c" opacity="0.45"/><circle cx="334.3" cy="419.4" r="0.95" fill="#5e2613"/><circle cx="322.2" cy="420.1" r="1.8" fill="#f6b98c" opacity="0.45"/><circle cx="322.2" cy="420.1" r="0.95" fill="#5e2613"/><circle cx="310.0" cy="418.7" r="1.8" fill="#f6b98c" opacity="0.45"/><circle cx="310.0" cy="418.7" r="0.95" fill="#5e2613"/>
<path d="M103.8 406.5H158.3V398.5L167 414L158.3 429.3V421.7H103.8Z" fill="#fcc88e" stroke="#2a1e16" stroke-width="1.4"/>
<path d="M229 390L245 398H237V418.4H221V398H213Z" fill="#fcc88e" stroke="#2a1e16" stroke-width="1.4"/>
<path d="M478.6 394.5L494.6 402H486.6V422.4H470.6V402H462.6Z" fill="#fcc88e" stroke="#2a1e16" stroke-width="1.4"/>
<path d="M521 367.5L481.5 338M487.5 337.5L481.5 338L484 344" fill="none" stroke="#1f1f1f" stroke-width="1"/>
<text x="221.5" y="203" textLength="71.3" font-size="16.2" lengthAdjust="spacingAndGlyphs" stroke="#1c1c1c" stroke-width="0.3">Filtered air</text>
<text transform="translate(89.9 208.6) rotate(-90)" textLength="65.5" font-size="16.2" lengthAdjust="spacingAndGlyphs" stroke="#1c1c1c" stroke-width="0.3">Pulsed air</text>
<text transform="translate(73.9 446) rotate(-90)" textLength="65.6" font-size="16.2" lengthAdjust="spacingAndGlyphs" stroke="#1c1c1c" stroke-width="0.3">Unfiltered</text>
<text transform="translate(92.6 453.4) rotate(-90)" textLength="76.6" font-size="16.2" lengthAdjust="spacingAndGlyphs" stroke="#1c1c1c" stroke-width="0.3">ambient air</text>
<text transform="translate(535.7 399.2) rotate(-90)" textLength="99" font-size="16.2" lengthAdjust="spacingAndGlyphs" stroke="#1c1c1c" stroke-width="0.3">Filter cartridge</text>
<circle cx="300.3" cy="299" r="50" fill="#000" opacity="0.4"/>
<circle cx="300.3" cy="299" r="52.1" fill="none" stroke="#fff" stroke-width="6.3"/>
<path d="M285.2 280L319.3 299L285.2 318.1Z" fill="#fff" stroke="#fff" stroke-width="13" stroke-linejoin="round"/>
</svg></body></html>
